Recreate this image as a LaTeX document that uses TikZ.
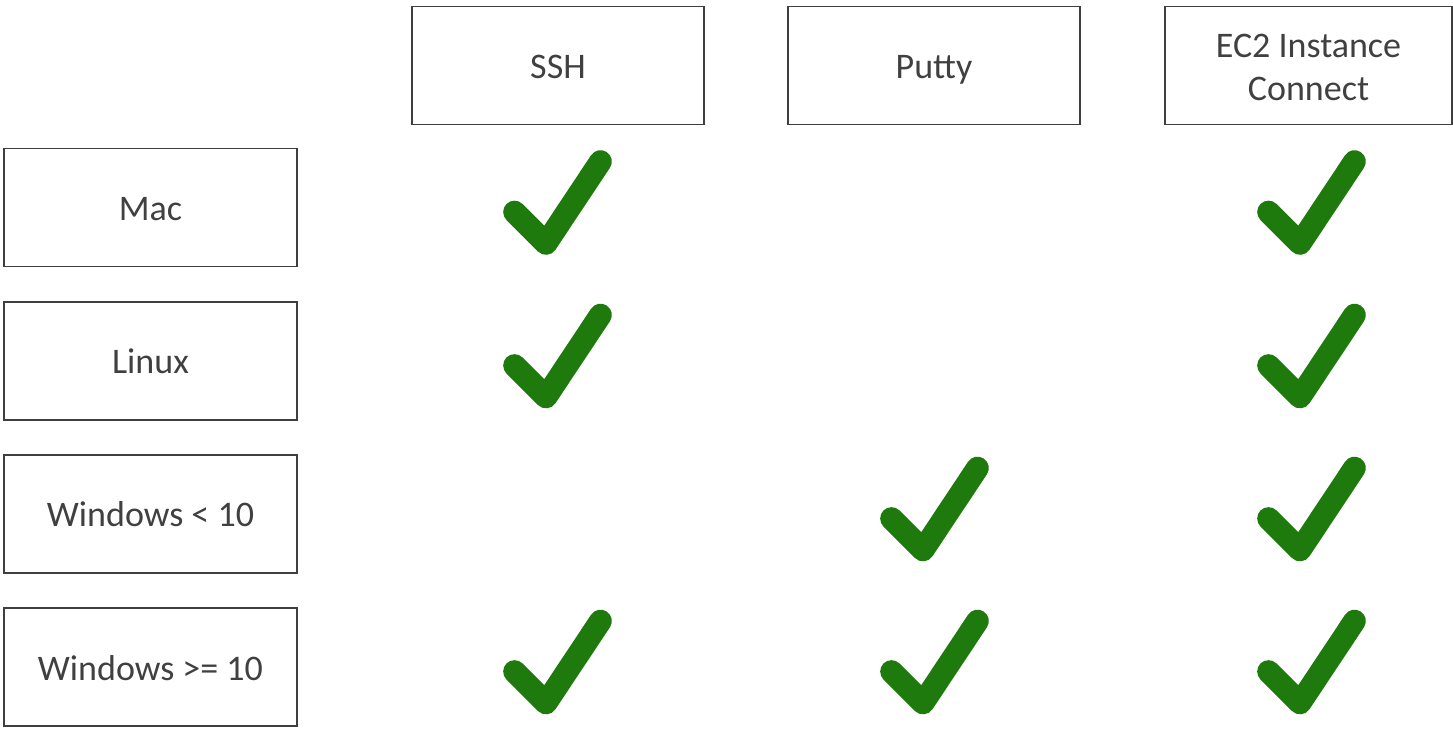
\documentclass[tikz,border=0pt]{standalone}
\usepackage{fontspec}
\setmainfont{Carlito}
\definecolor{txt}{HTML}{404040}
\definecolor{edge}{HTML}{3F3F3F}
\definecolor{ok}{HTML}{1E7A0C}
\begin{document}
\begin{tikzpicture}[x=0.75pt,y=-0.75pt,
  cell/.style={draw=edge,line width=1.4pt,inner sep=0pt,text=txt,
    font=\fontsize{27}{32}\selectfont,align=center,
    minimum width=292*0.75pt,minimum height=118*0.75pt},
  one/.style={text height=22pt,text depth=2.5pt},
  tick/.style={draw=ok,line width=17pt,line cap=round,line join=round}]
\useasboundingbox (0,0) rectangle (1453,730);
% header
\node[cell,one] (ssh) at (558,65.5) {SSH};
\node[cell,one] (putty) at (934,65.5) {Putty};
\node[cell,minimum width=287*0.75pt,
  label={[text=txt,font=\fontsize{27}{32}\selectfont,align=center,yshift=-1.5pt]center:EC2 Instance\\Connect}] (ec2) at (1308.5,65.5) {};
% rows
\node[cell,one,minimum width=293*0.75pt] (mac) at (150.5,207.5) {Mac};
\node[cell,one,minimum width=293*0.75pt] (linux) at (150.5,361) {Linux};
\node[cell,one,minimum width=293*0.75pt] (win) at (150.5,514) {Windows < 10};
\node[cell,one,minimum width=293*0.75pt] (winn) at (150.5,667) {Windows >= 10};
% check marks
\foreach \cx/\cy in {557/207.5,557/361,557/667,934/514,934/667,1311/207.5,1311/361,1311/514,1311/667}{
  \draw[tick] (\cx-42.5,\cy+4.5) -- (\cx-11,\cy+36) -- (\cx+43.5,\cy-46);
}
\end{tikzpicture}
\end{document}
